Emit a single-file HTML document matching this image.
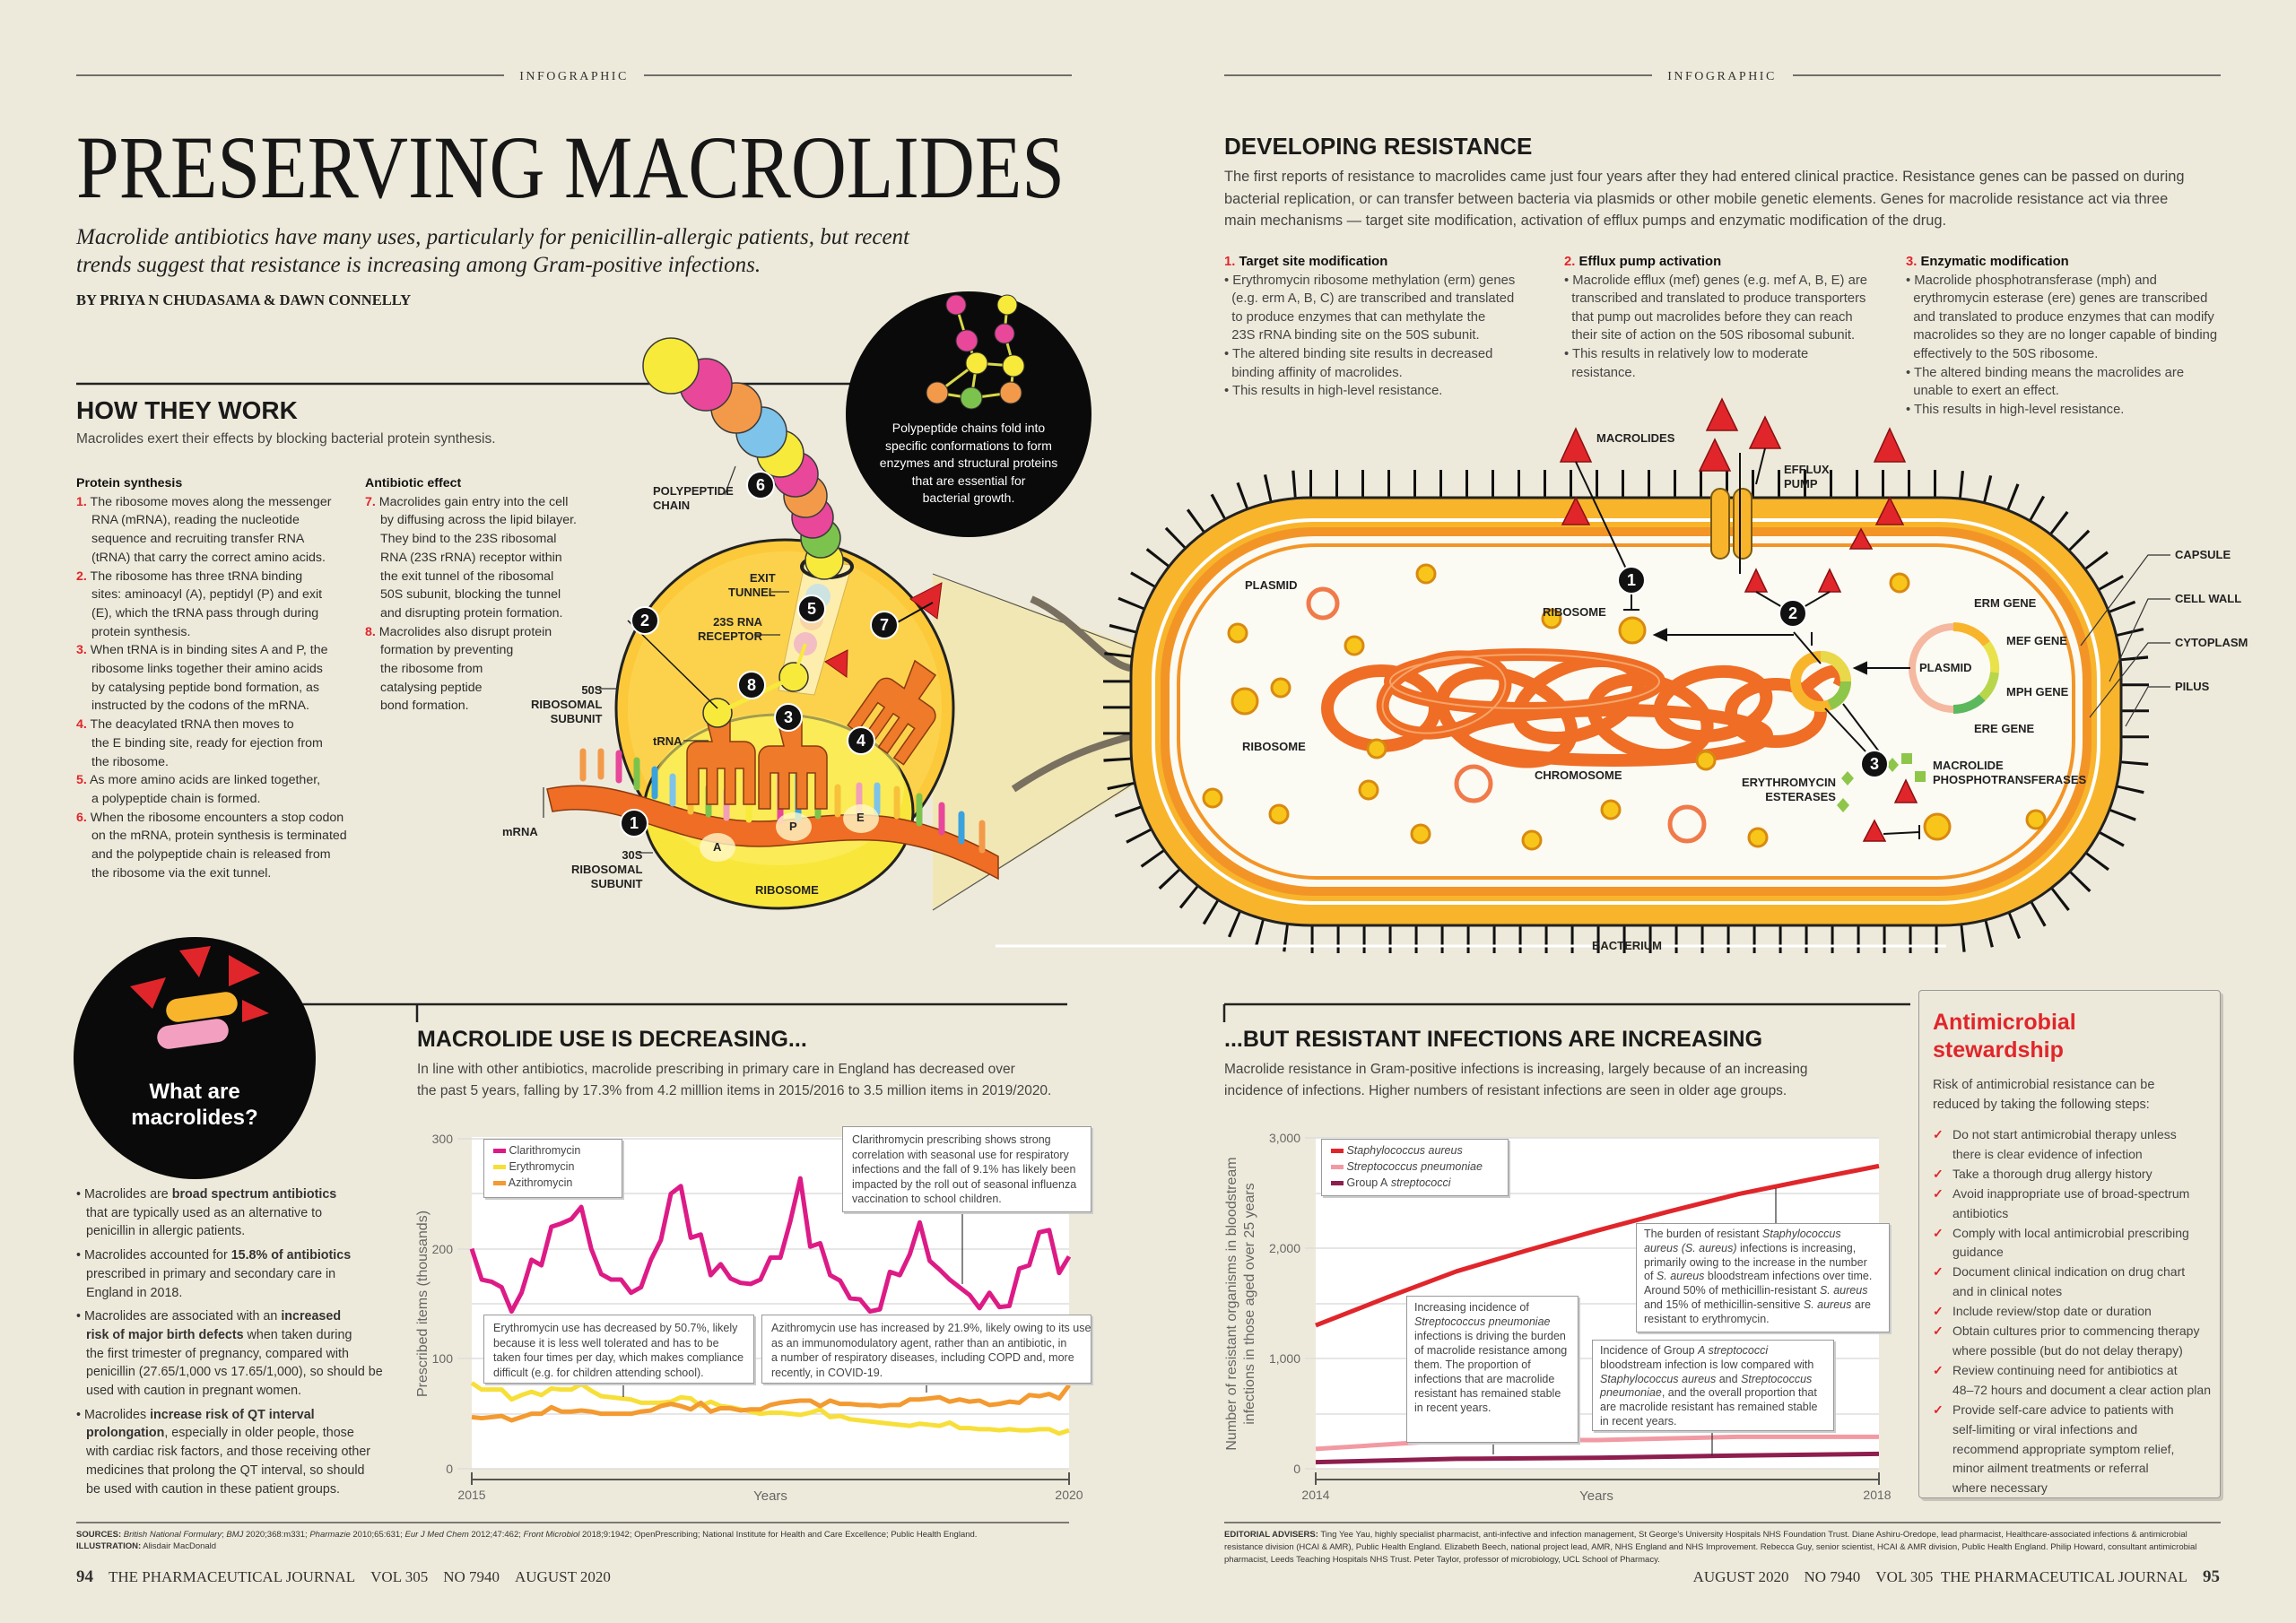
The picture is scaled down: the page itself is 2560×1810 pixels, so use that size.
<!DOCTYPE html>
<html><head><meta charset="utf-8">
<style>
*{margin:0;padding:0;box-sizing:border-box}
body{width:2560px;height:1810px;background:#eeeadb;position:relative;overflow:hidden;font-family:"Liberation Sans",sans-serif;color:#2e2e2e}
.a{position:absolute;white-space:nowrap}
.serif{font-family:"Liberation Serif",serif}
.r{color:#e0262b;font-weight:bold}
.item{padding-left:17px;text-indent:-17px}
.lbl{font-family:"Liberation Sans Narrow","Liberation Sans",sans-serif;font-weight:bold;font-size:13px;color:#222;line-height:16px}
.box{position:absolute;background:#fff;border:1.5px solid #999;box-shadow:2px 2px 0 #ccc;font-size:12.5px;line-height:16.5px;padding:6px 10px;white-space:nowrap;color:#444}
.ck{color:#e0262b;font-weight:bold;display:inline-block;width:22px;text-indent:0}
</style></head><body>

<svg class="a" style="left:0;top:0" width="2560" height="1810" viewBox="0 0 2560 1810" xmlns="http://www.w3.org/2000/svg">
<line x1="85" y1="84" x2="562" y2="84" stroke="#444" stroke-width="1.5"/>
<line x1="718" y1="84" x2="1195" y2="84" stroke="#444" stroke-width="1.5"/>
<line x1="1365" y1="84" x2="1842" y2="84" stroke="#444" stroke-width="1.5"/>
<line x1="1999" y1="84" x2="2476" y2="84" stroke="#444" stroke-width="1.5"/>
<text x="640" y="89" font-family="Liberation Serif" font-size="14" letter-spacing="2.5" text-anchor="middle" fill="#333">INFOGRAPHIC</text>
<text x="1920" y="89" font-family="Liberation Serif" font-size="14" letter-spacing="2.5" text-anchor="middle" fill="#333">INFOGRAPHIC</text>
<text x="85" y="220" font-family="Liberation Serif" font-size="100" textLength="1102" lengthAdjust="spacingAndGlyphs" fill="#161616">PRESERVING MACROLIDES</text>
<line x1="85" y1="428" x2="960" y2="428" stroke="#222" stroke-width="2.5"/>

<polygon points="1040,640 1388,765 1388,800 1040,1015" fill="#f1e6ae" opacity="0.85"/>
<line x1="1040" y1="640" x2="1388" y2="770" stroke="#555" stroke-width="1.2"/>
<line x1="1040" y1="1015" x2="1388" y2="795" stroke="#555" stroke-width="1.2"/>
<path d="M1150,668 C1200,690 1230,740 1260,745" stroke="#7a7060" stroke-width="8" fill="none"/>
<path d="M1130,880 C1190,840 1230,830 1265,820" stroke="#7a7060" stroke-width="8" fill="none"/>

<!-- black info circle -->
<circle cx="1080" cy="462" r="137" fill="#0a0a0a"/>
<g stroke="#d8d84a" stroke-width="3">
<line x1="1066" y1="340" x2="1078" y2="380"/><line x1="1123" y1="340" x2="1120" y2="372"/><line x1="1078" y1="380" x2="1089" y2="405"/><line x1="1120" y1="372" x2="1130" y2="408"/><line x1="1089" y1="405" x2="1130" y2="408"/><line x1="1089" y1="405" x2="1045" y2="438"/><line x1="1089" y1="405" x2="1083" y2="444"/><line x1="1130" y1="408" x2="1127" y2="438"/><line x1="1045" y1="438" x2="1083" y2="444"/><line x1="1083" y1="444" x2="1127" y2="438"/>
</g>
<g stroke="#333" stroke-width="1">
<circle cx="1066" cy="340" r="11" fill="#e8479a"/><circle cx="1123" cy="340" r="11" fill="#f7ea3a"/><circle cx="1078" cy="380" r="12" fill="#e8479a"/><circle cx="1120" cy="372" r="11" fill="#e8479a"/><circle cx="1089" cy="405" r="12" fill="#f7ea3a"/><circle cx="1130" cy="408" r="12" fill="#f7ea3a"/><circle cx="1045" cy="438" r="12" fill="#f39a4a"/><circle cx="1083" cy="444" r="12" fill="#7cc34d"/><circle cx="1127" cy="438" r="12" fill="#f39a4a"/>
</g>

<!-- ribosome -->
<circle cx="875" cy="790" r="188" fill="#fbc93a" stroke="#222" stroke-width="3"/>
<circle cx="875" cy="790" r="175" fill="#fcd24d"/>
<ellipse cx="868" cy="905" rx="150" ry="108" fill="#f9e63a" stroke="#222" stroke-width="3"/>
<ellipse cx="868" cy="880" rx="140" ry="85" fill="#fbee6a" opacity="0.6"/>
<polygon points="898,625 950,630 908,775 868,770" fill="#fff8cf" opacity="0.75" stroke="#c9a94a"/>
<ellipse cx="922" cy="632" rx="28" ry="12" fill="none" stroke="#222" stroke-width="4"/>
<circle cx="912" cy="665" r="14" fill="#bfe0ee" opacity="0.8"/><circle cx="905" cy="690" r="13" fill="#f7c9a0" opacity="0.7"/><circle cx="898" cy="718" r="13" fill="#f2b7c6" opacity="0.9"/>
<g stroke="#3a3a3a" stroke-width="1.5">
<circle cx="919" cy="625" r="21" fill="#f7ea3a"/><circle cx="915" cy="600" r="22" fill="#7cc34d"/><circle cx="906" cy="577" r="23" fill="#e8479a"/><circle cx="898" cy="553" r="24" fill="#f39a4a"/><circle cx="887" cy="529" r="25" fill="#e8479a"/><circle cx="870" cy="506" r="26" fill="#f7ea3a"/><circle cx="849" cy="482" r="28" fill="#7ec3ea"/><circle cx="821" cy="455" r="28" fill="#f39a4a"/><circle cx="787" cy="429" r="29" fill="#e8479a"/><circle cx="748" cy="408" r="31" fill="#f7ea3a"/>
</g>
<path d="M610,880 C700,860 760,925 870,915 C960,905 1010,900 1113,955 L1113,980 C1010,925 960,935 870,943 C760,953 700,890 616,905 Z" fill="#ef6d24" stroke="#8a3a10" stroke-width="1.5"/>
<g stroke-width="7" stroke-linecap="round">
<line x1="650" y1="868" x2="650" y2="838" stroke="#f39a4a"/><line x1="670" y1="866" x2="670" y2="838" stroke="#f39a4a"/><line x1="690" y1="870" x2="690" y2="840" stroke="#e8479a"/><line x1="710" y1="878" x2="710" y2="848" stroke="#7cc34d"/><line x1="730" y1="888" x2="730" y2="858" stroke="#3aa3dd"/><line x1="750" y1="896" x2="750" y2="866" stroke="#7ec3ea"/><line x1="770" y1="905" x2="770" y2="875" stroke="#f7c23a"/><line x1="790" y1="908" x2="790" y2="878" stroke="#7cc34d"/><line x1="810" y1="912" x2="810" y2="882" stroke="#f2a0b8"/><line x1="835" y1="914" x2="835" y2="884" stroke="#f7ea3a"/><line x1="870" y1="915" x2="870" y2="860" stroke="#e8479a"/><line x1="890" y1="913" x2="890" y2="860" stroke="#3aa3dd"/><line x1="912" y1="910" x2="912" y2="880" stroke="#7cc34d"/><line x1="934" y1="908" x2="934" y2="878" stroke="#f7c23a"/><line x1="958" y1="906" x2="958" y2="876" stroke="#f2a0b8"/><line x1="978" y1="906" x2="978" y2="876" stroke="#7ec3ea"/><line x1="1000" y1="910" x2="1000" y2="880" stroke="#f7c23a"/><line x1="1025" y1="918" x2="1025" y2="888" stroke="#7cc34d"/><line x1="1050" y1="928" x2="1050" y2="898" stroke="#e8479a"/><line x1="1072" y1="938" x2="1072" y2="908" stroke="#3aa3dd"/><line x1="1095" y1="948" x2="1095" y2="918" stroke="#f39a4a"/>
</g>
<ellipse cx="800" cy="945" rx="20" ry="16" fill="#fff7c8" opacity="0.8"/><ellipse cx="885" cy="922" rx="20" ry="16" fill="#fff7c8" opacity="0.8"/><ellipse cx="960" cy="913" rx="20" ry="16" fill="#fff7c8" opacity="0.8"/>
<defs><path id="trna" d="M-14,-55 h28 v32 h16 a12,12 0 0 1 12,12 v58 h-13 v-40 h-9 v40 h-12 v-40 h-8 v40 h-12 v-40 h-9 v40 h-13 v-58 a12,12 0 0 1 12,-12 h16 z" fill="#ee7a2a" stroke="#8a3a10" stroke-width="1.5"/></defs>
<use href="#trna" x="800" y="850"/><use href="#trna" x="880" y="855"/>
<use href="#trna" transform="translate(1000,790) rotate(35)"/>
<circle cx="800" cy="795" r="16" fill="#f7ea3a" stroke="#333" stroke-width="1.5"/>
<circle cx="885" cy="755" r="16" fill="#f7ea3a" stroke="#333" stroke-width="1.5"/>
<line x1="800" y1="795" x2="885" y2="755" stroke="#f7ea3a" stroke-width="5"/>
<line x1="885" y1="755" x2="898" y2="718" stroke="#f7ea3a" stroke-width="4"/>
<polygon points="1015,668 1050,650 1045,690" fill="#e0262b" stroke="#8a1010"/>
<polygon points="920,738 945,725 944,755" fill="#e0262b" stroke="#8a1010"/>
<line x1="1040" y1="672" x2="990" y2="700" stroke="#111" stroke-width="2"/>
<line x1="700" y1="692" x2="800" y2="790" stroke="#111" stroke-width="1.5"/>
<g stroke="#333" stroke-width="1.2"><line x1="668" y1="768" x2="690" y2="768"/><line x1="762" y1="826" x2="790" y2="826"/><line x1="712" y1="951" x2="728" y2="951"/><line x1="606" y1="912" x2="606" y2="878"/><line x1="860" y1="660" x2="880" y2="660"/><line x1="841" y1="708" x2="870" y2="708"/><line x1="808" y1="552" x2="820" y2="520"/></g>
<g font-family="Liberation Sans" font-weight="bold" font-size="18" text-anchor="middle">
<g><circle cx="707" cy="918" r="15" fill="#111" stroke="#fff" stroke-width="2"/><text x="707" y="924" fill="#fff">1</text></g>
<g><circle cx="719" cy="692" r="15" fill="#111" stroke="#fff" stroke-width="2"/><text x="719" y="698" fill="#fff">2</text></g>
<g><circle cx="879" cy="800" r="15" fill="#111" stroke="#fff" stroke-width="2"/><text x="879" y="806" fill="#fff">3</text></g>
<g><circle cx="960" cy="826" r="15" fill="#111" stroke="#fff" stroke-width="2"/><text x="960" y="832" fill="#fff">4</text></g>
<g><circle cx="905" cy="679" r="15" fill="#111" stroke="#fff" stroke-width="2"/><text x="905" y="685" fill="#fff">5</text></g>
<g><circle cx="848" cy="541" r="15" fill="#111" stroke="#fff" stroke-width="2"/><text x="848" y="547" fill="#fff">6</text></g>
<g><circle cx="986" cy="697" r="15" fill="#111" stroke="#fff" stroke-width="2"/><text x="986" y="703" fill="#fff">7</text></g>
<g><circle cx="838" cy="764" r="15" fill="#111" stroke="#fff" stroke-width="2"/><text x="838" y="770" fill="#fff">8</text></g>
</g>

<!-- BACTERIUM -->
<rect x="1250" y="544" width="1126" height="499" rx="210" fill="none" stroke="#111" stroke-width="40" stroke-dasharray="3 26"/>
<rect x="1261" y="555" width="1104" height="477" rx="200" fill="#f8b52c" stroke="#222" stroke-width="3"/>
<rect x="1286" y="580" width="1054" height="427" rx="178" fill="none" stroke="#fff" stroke-width="4"/>
<rect x="1294" y="588" width="1038" height="411" rx="170" fill="#f39526"/>
<rect x="1304" y="598" width="1018" height="391" rx="162" fill="#fbfaf3"/>
<rect x="1314" y="608" width="998" height="371" rx="154" fill="none" stroke="#f39526" stroke-width="4"/>
<rect x="1908" y="545" width="20" height="78" rx="10" fill="#f8b52c" stroke="#7a5a10" stroke-width="2"/>
<rect x="1933" y="545" width="20" height="78" rx="10" fill="#f8b52c" stroke="#7a5a10" stroke-width="2"/>
<line x1="1940" y1="505" x2="1940" y2="640" stroke="#111" stroke-width="2"/>
<g fill="none" stroke="#ef6d24" stroke-width="14">
<ellipse cx="1540" cy="790" rx="60" ry="42"/><ellipse cx="1610" cy="775" rx="70" ry="40" transform="rotate(-15 1610 775)"/><ellipse cx="1680" cy="800" rx="75" ry="45" transform="rotate(20 1680 800)"/><ellipse cx="1760" cy="780" rx="70" ry="38" transform="rotate(-20 1760 780)"/><ellipse cx="1840" cy="800" rx="65" ry="40" transform="rotate(15 1840 800)"/><ellipse cx="1910" cy="785" rx="60" ry="35" transform="rotate(-10 1910 785)"/><ellipse cx="1980" cy="795" rx="50" ry="32"/><ellipse cx="1700" cy="760" rx="150" ry="30"/><ellipse cx="1800" cy="820" rx="170" ry="28"/>
<path d="M2010,770 C2040,740 2060,745 2050,765"/>
</g>
<g fill="none" stroke="#f6a56a" stroke-width="2"><ellipse cx="1700" cy="760" rx="150" ry="30"/><ellipse cx="1610" cy="775" rx="70" ry="40" transform="rotate(-15 1610 775)"/></g>
<circle cx="2030" cy="760" r="28" fill="none" stroke="#f8b52c" stroke-width="12"/>
<path d="M2030,732 A28,28 0 0 1 2058,760" fill="none" stroke="#e9d84a" stroke-width="12"/>
<path d="M2058,760 A28,28 0 0 1 2040,786" fill="none" stroke="#8ec64a" stroke-width="12"/>
<circle cx="2178" cy="745" r="46" fill="none" stroke="#f5b8a0" stroke-width="8"/>
<path d="M2178,699 A46,46 0 0 1 2215,718" fill="none" stroke="#f8b52c" stroke-width="10"/>
<path d="M2215,718 A46,46 0 0 1 2224,750" fill="none" stroke="#e9e24a" stroke-width="10"/>
<path d="M2224,750 A46,46 0 0 1 2210,778" fill="none" stroke="#b8d64a" stroke-width="10"/>
<path d="M2210,778 A46,46 0 0 1 2178,791" fill="none" stroke="#5cb85c" stroke-width="10"/>
<g fill="none" stroke="#f07a4a" stroke-width="5"><circle cx="1475" cy="673" r="16"/><circle cx="1643" cy="874" r="19"/><circle cx="1881" cy="919" r="19"/></g>
<g fill="#f8c51a" stroke="#d88a10" stroke-width="3">
<circle cx="1380" cy="706" r="10"/><circle cx="1428" cy="767" r="10"/><circle cx="1352" cy="890" r="10"/><circle cx="1426" cy="908" r="10"/><circle cx="1526" cy="881" r="10"/><circle cx="1584" cy="930" r="10"/><circle cx="1708" cy="937" r="10"/><circle cx="1796" cy="903" r="10"/><circle cx="1902" cy="848" r="10"/><circle cx="1960" cy="934" r="10"/><circle cx="2118" cy="650" r="10"/><circle cx="2270" cy="914" r="10"/><circle cx="1510" cy="720" r="10"/><circle cx="1535" cy="835" r="10"/><circle cx="1590" cy="640" r="10"/><circle cx="1730" cy="690" r="10"/>
<circle cx="1388" cy="782" r="14"/><circle cx="1820" cy="703" r="14"/><circle cx="2160" cy="922" r="14"/>
</g>
<g fill="#e0262b" stroke="#8a1010" stroke-width="1.5">
<polygon points="1757,478 1740,515 1774,515"/><polygon points="1757,555 1742,585 1772,585"/><polygon points="1920,445 1903,480 1937,480"/><polygon points="1968,465 1951,500 1985,500"/><polygon points="1912,490 1895,525 1929,525"/><polygon points="2107,478 2090,515 2124,515"/><polygon points="2107,555 2092,585 2122,585"/><polygon points="1958,635 1946,660 1970,660"/><polygon points="2040,635 2028,660 2052,660"/><polygon points="2075,590 2063,612 2087,612"/><polygon points="2125,870 2113,895 2137,895"/><polygon points="2090,915 2078,938 2102,938"/>
</g>
<g stroke="#111" stroke-width="2" fill="none">
<line x1="1757" y1="515" x2="1819" y2="647"/><line x1="1819" y1="662" x2="1819" y2="680"/><line x1="1810" y1="680" x2="1828" y2="680"/>
<line x1="1968" y1="500" x2="1958" y2="540"/><line x1="2040" y1="660" x2="1999" y2="684"/><line x1="1958" y1="660" x2="1999" y2="684"/>
<line x1="2020" y1="705" x2="2020" y2="720"/><line x1="2000" y1="705" x2="2030" y2="740"/>
<line x1="2035" y1="790" x2="2080" y2="838"/><line x1="2055" y1="785" x2="2095" y2="838"/>
<line x1="2000" y1="708" x2="1850" y2="708"/><polygon points="1845,708 1858,702 1858,714" fill="#111"/>
<line x1="2130" y1="745" x2="2075" y2="745"/><polygon points="2068,745 2081,739 2081,751" fill="#111"/>
<line x1="2100" y1="930" x2="2140" y2="928"/><line x1="2140" y1="920" x2="2140" y2="936"/>
</g>
<g fill="#8ec64a"><polygon points="2060,860 2067,868 2060,876 2053,868"/><polygon points="2110,845 2117,853 2110,861 2103,853"/><polygon points="2055,890 2062,898 2055,906 2048,898"/><rect x="2120" y="840" width="12" height="12"/><rect x="2135" y="860" width="12" height="12"/></g>
<g font-family="Liberation Sans" font-weight="bold" font-size="18" text-anchor="middle">
<g><circle cx="1819" cy="647" r="15" fill="#111" stroke="#fff" stroke-width="2"/><text x="1819" y="653" fill="#fff">1</text></g>
<g><circle cx="1999" cy="684" r="15" fill="#111" stroke="#fff" stroke-width="2"/><text x="1999" y="690" fill="#fff">2</text></g>
<g><circle cx="2090" cy="852" r="15" fill="#111" stroke="#fff" stroke-width="2"/><text x="2090" y="858" fill="#fff">3</text></g>
</g>
<g stroke="#333" stroke-width="1.2" fill="none"><polyline points="2420,619 2395,619 2320,720"/><polyline points="2420,668 2395,668 2352,760"/><polyline points="2420,717 2395,717 2330,800"/><polyline points="2420,766 2395,766 2370,810"/>
<line x1="1110" y1="1055" x2="1780" y2="1055" stroke="#fff" stroke-width="3"/><line x1="1850" y1="1055" x2="2170" y2="1055" stroke="#fff" stroke-width="3"/></g>

<line x1="300" y1="1120" x2="1190" y2="1120" stroke="#222" stroke-width="2.5"/>
<line x1="1365" y1="1120" x2="2130" y2="1120" stroke="#222" stroke-width="2.5"/>
<line x1="465" y1="1120" x2="465" y2="1140" stroke="#222" stroke-width="2.5"/>
<line x1="1365" y1="1120" x2="1365" y2="1140" stroke="#222" stroke-width="2.5"/>

<circle cx="217" cy="1180" r="135" fill="#0a0a0a"/>
<g fill="#e0262b"><polygon points="145,1100 185,1090 170,1125"/><polygon points="200,1060 235,1055 222,1090"/><polygon points="255,1065 290,1085 255,1100"/><polygon points="270,1115 300,1130 270,1140"/></g>
<rect x="185" y="1110" width="80" height="26" rx="13" fill="#f8b52c" transform="rotate(-8 225 1123)"/>
<rect x="175" y="1140" width="80" height="26" rx="13" fill="#f3a0c0" transform="rotate(-8 215 1153)"/>
<text x="217" y="1225" font-family="Liberation Sans" font-weight="bold" font-size="24" fill="#fff" text-anchor="middle">What are</text>
<text x="217" y="1254" font-family="Liberation Sans" font-weight="bold" font-size="24" fill="#fff" text-anchor="middle">macrolides?</text>

<!-- CHART 1 -->
<rect x="526" y="1268" width="666" height="370" fill="#fff"/>
<g stroke="#ddd" stroke-width="1.5"><line x1="510" y1="1270" x2="1192" y2="1270"/><line x1="526" y1="1331" x2="1192" y2="1331"/><line x1="510" y1="1393" x2="1192" y2="1393"/><line x1="526" y1="1454" x2="1192" y2="1454"/><line x1="510" y1="1515" x2="1192" y2="1515"/><line x1="526" y1="1577" x2="1192" y2="1577"/><line x1="510" y1="1638" x2="1192" y2="1638"/></g>
<line x1="526" y1="1650" x2="1192" y2="1650" stroke="#555" stroke-width="2"/><line x1="526" y1="1642" x2="526" y2="1656" stroke="#555" stroke-width="2"/><line x1="1192" y1="1642" x2="1192" y2="1656" stroke="#555" stroke-width="2"/>
<g transform="translate(526,1638) scale(11.1,-1.2267)" fill="none" stroke-width="5" stroke-linejoin="round">
<polyline vector-effect="non-scaling-stroke" stroke="#f7df3a" points="0,78 1,72 2,72 3,72 4,63 5,67 6,70 7,67 8,73 9,72 10,72 11,77 12,71 13,66 14,65 15,64 16,63 17,60 18,60 19,60 20,61 21,65 22,64 23,57 24,61 25,57 26,56 27,54 28,52 29,50 30,51 31,51 32,50 33,49 34,51 35,54 36,47 37,48 38,45 39,44 40,43 41,42 42,41 43,40 44,39 45,41 46,40 47,39 48,42 49,37 50,37 51,36 52,36 53,35 54,36 55,35 56,35 57,36 58,36 59,32 60,35"/>
<polyline vector-effect="non-scaling-stroke" stroke="#f39a30" points="0,47 1,46 2,47 3,48 4,44 5,47 6,50 7,50 8,56 9,52 10,52 11,53 12,52 13,50 14,50 15,50 16,50 17,52 18,53 19,57 20,59 21,57 22,54 23,60 24,52 25,55 26,55 27,53 28,54 29,54 30,58 31,60 32,61 33,62 34,62 35,57 36,62 37,59 38,59 39,58 40,58 41,57 42,58 43,58 44,63 45,63 46,64 47,65 48,61 49,63 50,61 51,62 52,58 53,59 54,61 55,60 56,67 57,66 58,68 59,64 60,76"/>
<polyline vector-effect="non-scaling-stroke" stroke="#dd1b86" points="0,200 1,172 2,170 3,165 4,143 5,160 6,190 7,185 8,220 9,223 10,227 11,238 12,200 13,177 14,172 15,172 16,160 17,165 18,190 19,208 20,250 21,257 22,210 23,213 24,176 25,186 26,173 27,169 28,168 29,172 30,192 31,192 32,225 33,264 34,202 35,205 36,176 37,171 38,155 39,154 40,143 41,145 42,179 43,176 44,195 45,224 46,189 47,181 48,172 49,165 50,158 51,146 52,160 53,147 54,148 55,182 56,185 57,215 58,217 59,178 60,193"/>
</g>
<g font-family="Liberation Sans" font-size="14" fill="#666" text-anchor="end"><text x="505" y="1275">300</text><text x="505" y="1398">200</text><text x="505" y="1520">100</text><text x="505" y="1643">0</text></g>
<g font-family="Liberation Sans" font-size="14" fill="#666" text-anchor="middle"><text x="526" y="1672">2015</text><text x="1192" y="1672">2020</text><text x="859" y="1673" font-size="15">Years</text></g>
<text transform="translate(476,1454) rotate(-90)" font-family="Liberation Sans" font-size="16" fill="#666" text-anchor="middle">Prescribed items (thousands)</text>
<line x1="1073" y1="1352" x2="1073" y2="1432" stroke="#333" stroke-width="1.2"/>
<line x1="695" y1="1543" x2="695" y2="1558" stroke="#333" stroke-width="1.2"/>
<line x1="1033" y1="1543" x2="1033" y2="1553" stroke="#333" stroke-width="1.2"/>

<!-- CHART 2 -->
<rect x="1467" y="1269" width="628" height="369" fill="#fff"/>
<g stroke="#ddd" stroke-width="1.5"><line x1="1455" y1="1269" x2="2095" y2="1269"/><line x1="1467" y1="1331" x2="2095" y2="1331"/><line x1="1455" y1="1392" x2="2095" y2="1392"/><line x1="1467" y1="1454" x2="2095" y2="1454"/><line x1="1455" y1="1515" x2="2095" y2="1515"/><line x1="1467" y1="1577" x2="2095" y2="1577"/><line x1="1455" y1="1638" x2="2095" y2="1638"/></g>
<line x1="1467" y1="1650" x2="2095" y2="1650" stroke="#555" stroke-width="2"/><line x1="1467" y1="1642" x2="1467" y2="1656" stroke="#555" stroke-width="2"/><line x1="2095" y1="1642" x2="2095" y2="1656" stroke="#555" stroke-width="2"/>
<g transform="translate(1467,1638) scale(157,-0.123)" fill="none" stroke-linejoin="round">
<polyline vector-effect="non-scaling-stroke" stroke="#8e1e4e" stroke-width="5" points="0,60 1,90 2,100 3,120 4,135"/>
<polyline vector-effect="non-scaling-stroke" stroke="#f29aa3" stroke-width="5" points="0,180 1,260 2,260 3,290 4,290"/>
<polyline vector-effect="non-scaling-stroke" stroke="#e0262b" stroke-width="5" points="0,1300 0.5,1550 1,1790 1.5,1980 2,2160 2.5,2330 3,2490 3.5,2620 4,2745"/>
</g>
<g font-family="Liberation Sans" font-size="14" fill="#666" text-anchor="end"><text x="1450" y="1274">3,000</text><text x="1450" y="1397">2,000</text><text x="1450" y="1520">1,000</text><text x="1450" y="1643">0</text></g>
<g font-family="Liberation Sans" font-size="14" fill="#666" text-anchor="middle"><text x="1467" y="1672">2014</text><text x="2093" y="1672">2018</text><text x="1780" y="1673" font-size="15">Years</text></g>
<text transform="translate(1378,1454) rotate(-90)" font-family="Liberation Sans" font-size="16" fill="#666" text-anchor="middle">Number of resistant organisms in bloodstream</text>
<text transform="translate(1398,1454) rotate(-90)" font-family="Liberation Sans" font-size="16" fill="#666" text-anchor="middle">infections in those aged over 25 years</text>
<line x1="1980" y1="1325" x2="1980" y2="1365" stroke="#333" stroke-width="1.2"/>
<line x1="1665" y1="1609" x2="1665" y2="1622" stroke="#333" stroke-width="1.2"/>
<line x1="1909" y1="1596" x2="1909" y2="1624" stroke="#333" stroke-width="1.2"/>

<line x1="85" y1="1698" x2="1192" y2="1698" stroke="#555" stroke-width="1.5"/>
<line x1="1365" y1="1698" x2="2476" y2="1698" stroke="#555" stroke-width="1.5"/>
</svg>

<div class="a serif" style="left:85px;top:249px;font-size:25px;line-height:31px;font-style:italic;color:#222">Macrolide antibiotics have many uses, particularly for penicillin-allergic patients, but recent<br>trends suggest that resistance is increasing among Gram-positive infections.</div>
<div class="a serif" style="left:85px;top:325px;font-size:16.5px;font-weight:bold;color:#222">BY PRIYA N CHUDASAMA &amp; DAWN CONNELLY</div>

<div class="a" style="left:85px;top:442px;font-size:28px;font-weight:bold;color:#1a1a1a">HOW THEY WORK</div>
<div class="a" style="left:85px;top:481px;font-size:15.5px;color:#444">Macrolides exert their effects by blocking bacterial protein synthesis.</div>

<div class="a" style="left:85px;top:529px;font-size:14.2px;line-height:20.7px">
<div style="font-weight:bold;color:#111">Protein synthesis</div>
<div class="item"><span class="r">1.</span> The ribosome moves along the messenger<br>RNA (mRNA), reading the nucleotide<br>sequence and recruiting transfer RNA<br>(tRNA) that carry the correct amino acids.</div>
<div class="item"><span class="r">2.</span> The ribosome has three tRNA binding<br>sites: aminoacyl (A), peptidyl (P) and exit<br>(E), which the tRNA pass through during<br>protein synthesis.</div>
<div class="item"><span class="r">3.</span> When tRNA is in binding sites A and P, the<br>ribosome links together their amino acids<br>by catalysing peptide bond formation, as<br>instructed by the codons of the mRNA.</div>
<div class="item"><span class="r">4.</span> The deacylated tRNA then moves to<br>the E binding site, ready for ejection from<br>the ribosome.</div>
<div class="item"><span class="r">5.</span> As more amino acids are linked together,<br>a polypeptide chain is formed.</div>
<div class="item"><span class="r">6.</span> When the ribosome encounters a stop codon<br>on the mRNA, protein synthesis is terminated<br>and the polypeptide chain is released from<br>the ribosome via the exit tunnel.</div>
</div>
<div class="a" style="left:407px;top:529px;font-size:14.2px;line-height:20.7px">
<div style="font-weight:bold;color:#111">Antibiotic effect</div>
<div class="item"><span class="r">7.</span> Macrolides gain entry into the cell<br>by diffusing across the lipid bilayer.<br>They bind to the 23S ribosomal<br>RNA (23S rRNA) receptor within<br>the exit tunnel of the ribosomal<br>50S subunit, blocking the tunnel<br>and disrupting protein formation.</div>
<div class="item"><span class="r">8.</span> Macrolides also disrupt protein<br>formation by preventing<br>the ribosome from<br>catalysing peptide<br>bond formation.</div>
</div>

<div class="a" style="left:980px;top:468px;width:200px;text-align:center;font-size:14px;line-height:19.5px;color:#fff">Polypeptide chains fold into<br>specific conformations to form<br>enzymes and structural proteins<br>that are essential for<br>bacterial growth.</div>

<div class="a lbl" style="left:728px;top:540px">POLYPEPTIDE<br>CHAIN</div>
<div class="a lbl" style="left:812px;top:637px;text-align:right">EXIT<br>TUNNEL</div>
<div class="a lbl" style="left:778px;top:686px;text-align:right">23S RNA<br>RECEPTOR</div>
<div class="a lbl" style="left:592px;top:762px;text-align:right">50S<br>RIBOSOMAL<br>SUBUNIT</div>
<div class="a lbl" style="left:728px;top:819px">tRNA</div>
<div class="a lbl" style="left:560px;top:920px">mRNA</div>
<div class="a lbl" style="left:637px;top:946px;text-align:right">30S<br>RIBOSOMAL<br>SUBUNIT</div>
<div class="a lbl" style="left:842px;top:985px">RIBOSOME</div>
<div class="a lbl" style="left:795px;top:937px">A</div>
<div class="a lbl" style="left:880px;top:914px">P</div>
<div class="a lbl" style="left:955px;top:904px">E</div>

<div class="a" style="left:1365px;top:148px;font-size:26px;font-weight:bold;color:#1a1a1a">DEVELOPING RESISTANCE</div>
<div class="a" style="left:1365px;top:185px;font-size:16.4px;line-height:24.5px;color:#444">The first reports of resistance to macrolides came just four years after they had entered clinical practice. Resistance genes can be passed on during<br>bacterial replication, or can transfer between bacteria via plasmids or other mobile genetic elements. Genes for macrolide resistance act via three<br>main mechanisms — target site modification, activation of efflux pumps and enzymatic modification of the drug.</div>
<div class="a" style="left:1365px;top:282px;font-size:14.8px;line-height:20.6px;color:#444">
<div style="font-weight:bold;color:#111"><span class="r">1.</span> Target site modification</div>
• Erythromycin ribosome methylation (erm) genes<br>&nbsp;&nbsp;(e.g. erm A, B, C) are transcribed and translated<br>&nbsp;&nbsp;to produce enzymes that can methylate the<br>&nbsp;&nbsp;23S rRNA binding site on the 50S subunit.<br>• The altered binding site results in decreased<br>&nbsp;&nbsp;binding affinity of macrolides.<br>• This results in high-level resistance.</div>
<div class="a" style="left:1744px;top:282px;font-size:14.8px;line-height:20.6px;color:#444">
<div style="font-weight:bold;color:#111"><span class="r">2.</span> Efflux pump activation</div>
• Macrolide efflux (mef) genes (e.g. mef A, B, E) are<br>&nbsp;&nbsp;transcribed and translated to produce transporters<br>&nbsp;&nbsp;that pump out macrolides before they can reach<br>&nbsp;&nbsp;their site of action on the 50S ribosomal subunit.<br>• This results in relatively low to moderate<br>&nbsp;&nbsp;resistance.</div>
<div class="a" style="left:2125px;top:282px;font-size:14.8px;line-height:20.6px;color:#444">
<div style="font-weight:bold;color:#111"><span class="r">3.</span> Enzymatic modification</div>
• Macrolide phosphotransferase (mph) and<br>&nbsp;&nbsp;erythromycin esterase (ere) genes are transcribed<br>&nbsp;&nbsp;and translated to produce enzymes that can modify<br>&nbsp;&nbsp;macrolides so they are no longer capable of binding<br>&nbsp;&nbsp;effectively to the 50S ribosome.<br>• The altered binding means the macrolides are<br>&nbsp;&nbsp;unable to exert an effect.<br>• This results in high-level resistance.</div>

<div class="a lbl" style="left:1780px;top:481px">MACROLIDES</div>
<div class="a lbl" style="left:1989px;top:516px">EFFLUX<br>PUMP</div>
<div class="a lbl" style="left:1388px;top:645px">PLASMID</div>
<div class="a lbl" style="left:1720px;top:675px">RIBOSOME</div>
<div class="a lbl" style="left:2201px;top:665px">ERM GENE</div>
<div class="a lbl" style="left:2237px;top:707px">MEF GENE</div>
<div class="a lbl" style="left:2140px;top:737px">PLASMID</div>
<div class="a lbl" style="left:2237px;top:764px">MPH GENE</div>
<div class="a lbl" style="left:2201px;top:805px">ERE GENE</div>
<div class="a lbl" style="left:1385px;top:825px">RIBOSOME</div>
<div class="a lbl" style="left:1711px;top:857px">CHROMOSOME</div>
<div class="a lbl" style="left:1942px;top:865px;text-align:right">ERYTHROMYCIN<br>ESTERASES</div>
<div class="a lbl" style="left:2155px;top:846px">MACROLIDE<br>PHOSPHOTRANSFERASES</div>
<div class="a lbl" style="left:1775px;top:1047px">BACTERIUM</div>
<div class="a lbl" style="left:2425px;top:611px">CAPSULE</div>
<div class="a lbl" style="left:2425px;top:660px">CELL WALL</div>
<div class="a lbl" style="left:2425px;top:709px">CYTOPLASM</div>
<div class="a lbl" style="left:2425px;top:758px">PILUS</div>

<div class="a" style="left:85px;top:1322px;font-size:14.3px;line-height:20.7px;color:#333">
<div class="item" style="padding-left:11px;text-indent:-11px">• Macrolides are <b>broad spectrum antibiotics</b><br>that are typically used as an alternative to<br>penicillin in allergic patients.</div>
<div class="item" style="padding-left:11px;text-indent:-11px;margin-top:6px">• Macrolides accounted for <b>15.8% of antibiotics</b><br>prescribed in primary and secondary care in<br>England in 2018.</div>
<div class="item" style="padding-left:11px;text-indent:-11px;margin-top:6px">• Macrolides are associated with an <b>increased<br>risk of major birth defects</b> when taken during<br>the first trimester of pregnancy, compared with<br>penicillin (27.65/1,000 vs 17.65/1,000), so should be<br>used with caution in pregnant women.</div>
<div class="item" style="padding-left:11px;text-indent:-11px;margin-top:6px">• Macrolides <b>increase risk of QT interval<br>prolongation</b>, especially in older people, those<br>with cardiac risk factors, and those receiving other<br>medicines that prolong the QT interval, so should<br>be used with caution in these patient groups.</div>
</div>

<div class="a" style="left:465px;top:1145px;font-size:25px;font-weight:bold;color:#1a1a1a">MACROLIDE USE IS DECREASING...</div>
<div class="a" style="left:465px;top:1181px;font-size:15.5px;line-height:24px;color:#444">In line with other antibiotics, macrolide prescribing in primary care in England has decreased over<br>the past 5 years, falling by 17.3% from 4.2 milllion items in 2015/2016 to 3.5 million items in 2019/2020.</div>
<div class="a" style="left:1365px;top:1145px;font-size:25px;font-weight:bold;color:#1a1a1a">...BUT RESISTANT INFECTIONS ARE INCREASING</div>
<div class="a" style="left:1365px;top:1181px;font-size:15.5px;line-height:24px;color:#444">Macrolide resistance in Gram-positive infections is increasing, largely because of an increasing<br>incidence of infections. Higher numbers of resistant infections are seen in older age groups.</div>

<div class="box" style="left:539px;top:1270px;width:155px;height:66px;font-size:12.5px;line-height:18px;padding:3px 10px">
<span style="display:inline-block;width:14px;height:5px;background:#dd1b86;vertical-align:middle"></span> Clarithromycin<br>
<span style="display:inline-block;width:14px;height:5px;background:#f7df3a;vertical-align:middle"></span> Erythromycin<br>
<span style="display:inline-block;width:14px;height:5px;background:#f39a30;vertical-align:middle"></span> Azithromycin</div>
<div class="box" style="left:939px;top:1256px;width:278px;height:96px">Clarithromycin prescribing shows strong<br>correlation with seasonal use for respiratory<br>infections and the fall of 9.1% has likely been<br>impacted by the roll out of seasonal influenza<br>vaccination to school children.</div>
<div class="box" style="left:539px;top:1466px;width:302px;height:77px">Erythromycin use has decreased by 50.7%, likely<br>because it is less well tolerated and has to be<br>taken four times per day, which makes compliance<br>difficult (e.g. for children attending school).</div>
<div class="box" style="left:849px;top:1466px;width:368px;height:77px">Azithromycin use has increased by 21.9%, likely owing to its use<br>as an immunomodulatory agent, rather than an antibiotic, in<br>a number of respiratory diseases, including COPD and, more<br>recently, in COVID-19.</div>

<div class="box" style="left:1473px;top:1270px;width:209px;height:64px;font-size:12.5px;line-height:18px;padding:3px 10px;font-style:italic">
<span style="display:inline-block;width:14px;height:5px;background:#e0262b;vertical-align:middle"></span> Staphylococcus aureus<br>
<span style="display:inline-block;width:14px;height:5px;background:#f29aa3;vertical-align:middle"></span> Streptococcus pneumoniae<br>
<span style="display:inline-block;width:14px;height:5px;background:#8e1e4e;vertical-align:middle"></span> <span style="font-style:normal">Group A</span> streptococci</div>
<div class="box" style="left:1824px;top:1364px;width:283px;height:122px;line-height:15.8px;padding:4px 8px">The burden of resistant <i>Staphylococcus<br>aureus (S. aureus)</i> infections is increasing,<br>primarily owing to the increase in the number<br>of <i>S. aureus</i> bloodstream infections over time.<br>Around 50% of methicillin-resistant <i>S. aureus</i><br>and 15% of methicillin-sensitive <i>S. aureus</i> are<br>resistant to erythromycin.</div>
<div class="box" style="left:1568px;top:1445px;width:192px;height:164px;line-height:16px;padding:4px 8px">Increasing incidence of<br><i>Streptococcus pneumoniae</i><br>infections is driving the burden<br>of macrolide resistance among<br>them. The proportion of<br>infections that are macrolide<br>resistant has remained stable<br>in recent years.</div>
<div class="box" style="left:1775px;top:1494px;width:270px;height:102px;line-height:15.8px;padding:4px 8px">Incidence of Group <i>A streptococci</i><br>bloodstream infection is low compared with<br><i>Staphylococcus aureus</i> and <i>Streptococcus<br>pneumoniae</i>, and the overall proportion that<br>are macrolide resistant has remained stable<br>in recent years.</div>

<div class="a" style="left:2139px;top:1104px;width:337px;height:567px;border:1.5px solid #999;border-radius:4px;box-shadow:3px 3px 0 #c9c5b8;background:#ede9da"></div>
<div class="a" style="left:2155px;top:1125px;font-size:25px;line-height:31px;font-weight:bold;color:#e0262b">Antimicrobial<br>stewardship</div>
<div class="a" style="left:2155px;top:1199px;font-size:14.5px;line-height:22px;color:#444">Risk of antimicrobial resistance can be<br>reduced by taking the following steps:</div>
<div class="a" style="left:2155px;top:1255px;font-size:14px;line-height:21.9px;color:#444">
<div class="item" style="padding-left:22px;text-indent:-22px"><span class="ck">✓</span>Do not start antimicrobial therapy unless<br>there is clear evidence of infection</div>
<div class="item" style="padding-left:22px;text-indent:-22px"><span class="ck">✓</span>Take a thorough drug allergy history</div>
<div class="item" style="padding-left:22px;text-indent:-22px"><span class="ck">✓</span>Avoid inappropriate use of broad-spectrum<br>antibiotics</div>
<div class="item" style="padding-left:22px;text-indent:-22px"><span class="ck">✓</span>Comply with local antimicrobial prescribing<br>guidance</div>
<div class="item" style="padding-left:22px;text-indent:-22px"><span class="ck">✓</span>Document clinical indication on drug chart<br>and in clinical notes</div>
<div class="item" style="padding-left:22px;text-indent:-22px"><span class="ck">✓</span>Include review/stop date or duration</div>
<div class="item" style="padding-left:22px;text-indent:-22px"><span class="ck">✓</span>Obtain cultures prior to commencing therapy<br>where possible (but do not delay therapy)</div>
<div class="item" style="padding-left:22px;text-indent:-22px"><span class="ck">✓</span>Review continuing need for antibiotics at<br>48–72 hours and document a clear action plan</div>
<div class="item" style="padding-left:22px;text-indent:-22px"><span class="ck">✓</span>Provide self-care advice to patients with<br>self-limiting or viral infections and<br>recommend appropriate symptom relief,<br>minor ailment treatments or referral<br>where necessary</div>
</div>

<div class="a" style="left:85px;top:1705px;font-size:9.5px;line-height:13px;color:#333"><b>SOURCES:</b> <i>British National Formulary</i>; <i>BMJ</i> 2020;368:m331; <i>Pharmazie</i> 2010;65:631; <i>Eur J Med Chem</i> 2012;47:462; <i>Front Microbiol</i> 2018;9:1942; OpenPrescribing; National Institute for Health and Care Excellence; Public Health England.<br><b>ILLUSTRATION:</b> Alisdair MacDonald</div>
<div class="a" style="left:1365px;top:1705px;font-size:9.5px;line-height:14px;color:#333"><b>EDITORIAL ADVISERS:</b> Ting Yee Yau, highly specialist pharmacist, anti-infective and infection management, St George's University Hospitals NHS Foundation Trust. Diane Ashiru-Oredope, lead pharmacist, Healthcare-associated infections &amp; antimicrobial<br>resistance division (HCAI &amp; AMR), Public Health England. Elizabeth Beech, national project lead, AMR, NHS England and NHS Improvement. Rebecca Guy, senior scientist, HCAI &amp; AMR division, Public Health England. Philip Howard, consultant antimicrobial<br>pharmacist, Leeds Teaching Hospitals NHS Trust. Peter Taylor, professor of microbiology, UCL School of Pharmacy.</div>
<div class="a serif" style="left:85px;top:1748px;font-size:17px;color:#333"><b style="font-size:19px">94</b>&nbsp;&nbsp;&nbsp;&nbsp;THE PHARMACEUTICAL JOURNAL&nbsp;&nbsp;&nbsp;&nbsp;VOL 305&nbsp;&nbsp;&nbsp;&nbsp;NO 7940&nbsp;&nbsp;&nbsp;&nbsp;AUGUST 2020</div>
<div class="a serif" style="right:85px;top:1748px;font-size:17px;color:#333">AUGUST 2020&nbsp;&nbsp;&nbsp;&nbsp;NO 7940&nbsp;&nbsp;&nbsp;&nbsp;VOL 305&nbsp;&nbsp;THE PHARMACEUTICAL JOURNAL&nbsp;&nbsp;&nbsp;&nbsp;<b style="font-size:19px">95</b></div>
</body></html>
